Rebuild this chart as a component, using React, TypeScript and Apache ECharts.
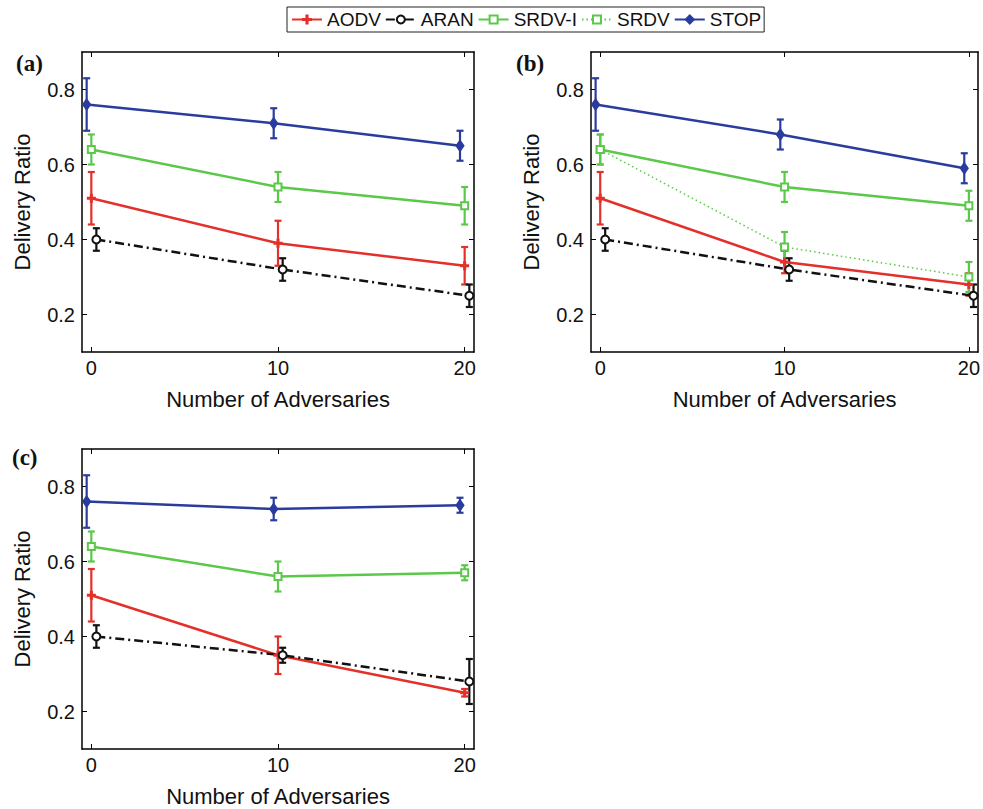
import React, { useEffect, useRef } from "react";
import * as echarts from "echarts";

const seriesNames = ["AODV", "ARAN", "SRDV-I", "SRDV", "STOP"];
const xTicks = [0, 10, 20];
const yTicks = [0.2, 0.4, 0.6, 0.8];
const panelLabels = ["(a)", "(b)", "(c)"];

// x positions of the points (markers are slightly offset in the original)
const xCenter = [0, 10, 20];
const xStop = [-0.25, 9.77, 19.75];
const xAran = [0.27, 10.25, 20.25];

// Panel (a)
const aAodv = [0.51, 0.39, 0.33];
const aAodvLo = [0.44, 0.33, 0.28];
const aAodvHi = [0.58, 0.45, 0.38];
const aAran = [0.4, 0.32, 0.25];
const aAranLo = [0.37, 0.29, 0.22];
const aAranHi = [0.43, 0.35, 0.28];
const aSrdvI = [0.64, 0.54, 0.49];
const aSrdvILo = [0.6, 0.5, 0.44];
const aSrdvIHi = [0.68, 0.58, 0.54];
const aStop = [0.76, 0.71, 0.65];
const aStopLo = [0.69, 0.67, 0.61];
const aStopHi = [0.83, 0.75, 0.69];

// Panel (b)
const bAodv = [0.51, 0.34, 0.28];
const bAodvLo = [0.44, 0.31, 0.25];
const bAodvHi = [0.58, 0.37, 0.31];
const bAran = [0.4, 0.32, 0.25];
const bAranLo = [0.37, 0.29, 0.22];
const bAranHi = [0.43, 0.35, 0.28];
const bSrdvI = [0.64, 0.54, 0.49];
const bSrdvILo = [0.6, 0.5, 0.45];
const bSrdvIHi = [0.68, 0.58, 0.53];
const bSrdv = [0.64, 0.38, 0.3];
const bSrdvLo = [0.6, 0.34, 0.26];
const bSrdvHi = [0.68, 0.42, 0.34];
const bStop = [0.76, 0.68, 0.59];
const bStopLo = [0.69, 0.64, 0.55];
const bStopHi = [0.83, 0.72, 0.63];

// Panel (c)
const cAodv = [0.51, 0.35, 0.25];
const cAodvLo = [0.44, 0.3, 0.24];
const cAodvHi = [0.58, 0.4, 0.26];
const cAran = [0.4, 0.35, 0.28];
const cAranLo = [0.37, 0.33, 0.22];
const cAranHi = [0.43, 0.37, 0.34];
const cSrdvI = [0.64, 0.56, 0.57];
const cSrdvILo = [0.6, 0.52, 0.55];
const cSrdvIHi = [0.68, 0.6, 0.59];
const cStop = [0.76, 0.74, 0.75];
const cStopLo = [0.69, 0.71, 0.73];
const cStopHi = [0.83, 0.77, 0.77];

const RED = "#e4302a";
const BLACK = "#111111";
const GREEN = "#5cc84a";
const BLUE = "#2a3c9e";
const FONT = "Liberation Sans";

const PLUS = "path://M4.25,0H5.75V4.25H10V5.75H5.75V10H4.25V5.75H0V4.25H4.25Z";

const styles: Record<string, any> = {
  AODV: { color: RED, symbol: PLUS, symbolSize: 7, lineType: "solid", xs: xCenter },
  ARAN: { color: BLACK, symbol: "emptyCircle", symbolSize: 8, lineType: [9, 4, 2, 4], xs: xAran },
  "SRDV-I": { color: GREEN, symbol: "emptyRect", symbolSize: 7, lineType: "solid", xs: xCenter },
  SRDV: { color: GREEN, symbol: "emptyRect", symbolSize: 7, lineType: [1.5, 3], xs: xCenter },
  STOP: { color: BLUE, symbol: "diamond", symbolSize: [7, 10], lineType: "solid", xs: xStop },
};

const panels = [
  {
    grid: { left: 82, top: 52, width: 392, height: 300 },
    series: [
      ["AODV", aAodv, aAodvLo, aAodvHi],
      ["ARAN", aAran, aAranLo, aAranHi],
      ["SRDV-I", aSrdvI, aSrdvILo, aSrdvIHi],
      ["STOP", aStop, aStopLo, aStopHi],
    ],
    label: { x: 16, y: 65 },
  },
  {
    grid: { left: 591, top: 52, width: 391, height: 300 },
    series: [
      ["AODV", bAodv, bAodvLo, bAodvHi],
      ["ARAN", bAran, bAranLo, bAranHi],
      ["SRDV-I", bSrdvI, bSrdvILo, bSrdvIHi],
      ["SRDV", bSrdv, bSrdvLo, bSrdvHi],
      ["STOP", bStop, bStopLo, bStopHi],
    ],
    label: { x: 516, y: 65 },
  },
  {
    grid: { left: 82, top: 449, width: 392, height: 300 },
    series: [
      ["AODV", cAodv, cAodvLo, cAodvHi],
      ["ARAN", cAran, cAranLo, cAranHi],
      ["SRDV-I", cSrdvI, cSrdvILo, cSrdvIHi],
      ["STOP", cStop, cStopLo, cStopHi],
    ],
    label: { x: 12, y: 459 },
  },
];

function buildOption() {
  const grids: any[] = [];
  const xAxes: any[] = [];
  const yAxes: any[] = [];
  const series: any[] = [];
  const graphics: any[] = [];
  const axisLine = { show: true, lineStyle: { color: "#000", width: 1.5 } };

  panels.forEach((p, pi) => {
    grids.push({ ...p.grid, containLabel: false });
    const xBase = {
      type: "value",
      gridIndex: pi,
      min: -0.5,
      max: 20.5,
      splitLine: { show: false },
      axisLine: { ...axisLine, onZero: false },
      axisTick: { show: true, inside: true, length: 5, customValues: xTicks, lineStyle: { color: "#000", width: 1 } },
    };
    xAxes.push({
      ...xBase,
      position: "bottom",
      name: "Number of Adversaries",
      nameLocation: "middle",
      nameGap: 36,
      nameTextStyle: { fontFamily: FONT, fontSize: 22, color: "#111" },
      axisLabel: { show: true, customValues: xTicks, margin: 6, fontFamily: FONT, fontSize: 20, color: "#111" },
    });
    xAxes.push({ ...xBase, position: "top", axisLabel: { show: false } });
    const yBase = {
      type: "value",
      gridIndex: pi,
      min: 0.1,
      max: 0.9,
      splitLine: { show: false },
      axisLine: { ...axisLine, onZero: false },
      axisTick: { show: true, inside: true, length: 5, customValues: yTicks, lineStyle: { color: "#000", width: 1 } },
    };
    yAxes.push({
      ...yBase,
      position: "left",
      name: "Delivery Ratio",
      nameLocation: "middle",
      nameGap: 49,
      nameRotate: 90,
      nameTextStyle: { fontFamily: FONT, fontSize: 22, color: "#111" },
      axisLabel: {
        show: true,
        customValues: yTicks,
        margin: 7,
        fontFamily: FONT,
        fontSize: 20,
        color: "#111",
        formatter: (v: number) => v.toFixed(1),
      },
    });
    yAxes.push({ ...yBase, position: "right", axisLabel: { show: false } });

    p.series.forEach((s: any) => {
      const [name, mean, lo, hi] = s;
      const st = styles[name];
      const xs: number[] = st.xs;
      series.push({
        name,
        type: "line",
        xAxisIndex: pi * 2,
        yAxisIndex: pi * 2,
        data: xs.map((x, i) => [x, mean[i]]),
        symbol: st.symbol,
        symbolSize: st.symbolSize,
        showSymbol: true,
        color: st.color,
        lineStyle: { color: st.color, width: name === "SRDV" ? 1.5 : 2.5, type: st.lineType },
        itemStyle: { color: st.color, borderColor: st.color, borderWidth: 2 },
        emphasis: { disabled: true },
        z: 3,
      });
      series.push({
        name: name + " error",
        type: "custom",
        xAxisIndex: pi * 2,
        yAxisIndex: pi * 2,
        data: xs.map((x, i) => [x, lo[i], hi[i]]),
        encode: { x: 0, y: [1, 2] },
        z: 3,
        renderItem: (params: any, api: any) => {
          const x = api.value(0);
          const pLo = api.coord([x, api.value(1)]);
          const pHi = api.coord([x, api.value(2)]);
          const w = 3.5;
          const style = { stroke: st.color, lineWidth: 2.2, fill: "none" };
          return {
            type: "group",
            children: [
              { type: "line", shape: { x1: pLo[0], y1: pLo[1], x2: pHi[0], y2: pHi[1] }, style },
              { type: "line", shape: { x1: pLo[0] - w, y1: pLo[1], x2: pLo[0] + w, y2: pLo[1] }, style },
              { type: "line", shape: { x1: pHi[0] - w, y1: pHi[1], x2: pHi[0] + w, y2: pHi[1] }, style },
            ],
          };
        },
      });
    });

    graphics.push({
      type: "text",
      left: p.label.x,
      top: p.label.y - 13,
      style: {
        text: panelLabels[pi],
        font: "bold 23px 'Liberation Serif'",
        fill: "#111",
      },
    });
  });

  return {
    animation: false,
    backgroundColor: "#ffffff",
    legend: {
      data: seriesNames,
      left: 287,
      top: 7,
      padding: [3, 3, 3, 4],
      itemGap: 4,
      itemWidth: 30,
      itemHeight: 10,
      borderColor: "#222",
      borderWidth: 1,
      textStyle: { fontFamily: FONT, fontSize: 19, color: "#111" },
      selectedMode: false,
    },
    grid: grids,
    xAxis: xAxes,
    yAxis: yAxes,
    series,
    graphic: graphics,
  };
}

export default function App() {
  const ref = useRef<HTMLDivElement>(null);
  useEffect(() => {
    if (!ref.current) return;
    const chart = echarts.init(ref.current, undefined, { renderer: "svg" });
    chart.setOption(buildOption() as any);
    return () => chart.dispose();
  }, []);
  return (
    <div
      ref={ref}
      style={{ position: "absolute", left: 0, top: 0, width: 983, height: 809, background: "#fff" }}
    />
  );
}
